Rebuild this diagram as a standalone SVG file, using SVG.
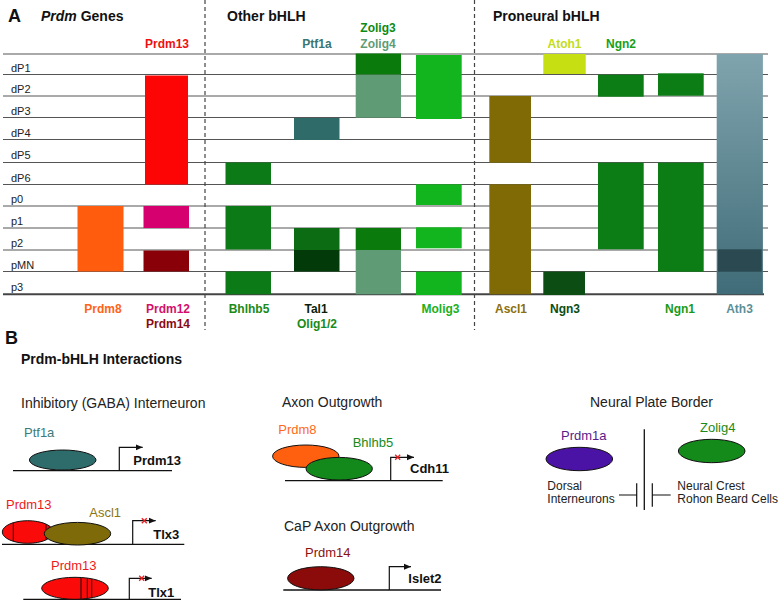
<svg xmlns="http://www.w3.org/2000/svg" width="778" height="601" viewBox="0 0 778 601">
<style>
text{font-family:"Liberation Sans",Arial,sans-serif}
.row{font-size:11px;fill:#222}
.col{font-size:12px;font-weight:bold;text-anchor:middle}
.hdr{font-size:14px;font-weight:bold;fill:#111}
.big{font-size:18px;font-weight:bold;fill:#111}
.sec{font-size:14px;fill:#222}
.lbl{font-size:13px}
.gene{font-size:13px;font-weight:bold;fill:#111}
.small{font-size:12px;fill:#222}
.grid line{stroke:#555;stroke-width:1}
.dash{stroke:#444;stroke-width:1.2;stroke-dasharray:4 3}
.ell{stroke:#111;stroke-width:1}
.prom{fill:none;stroke:#111;stroke-width:1.2}
.base{stroke:#111;stroke-width:1.3}
.stripe{stroke:#111;stroke-width:1}
.redx{stroke:#e82020;stroke-width:1.3}
</style>
<defs>
<marker id="arr" markerWidth="8" markerHeight="8" refX="7" refY="4" orient="auto" markerUnits="userSpaceOnUse">
<path d="M0,1 L7,4 L0,7 Z" fill="#111"/>
</marker>
<linearGradient id="ath" x1="0" y1="0" x2="0" y2="1">
<stop offset="0" stop-color="#80a4ae"/>
<stop offset="1" stop-color="#3f6c78"/>
</linearGradient>
<clipPath id="c13a"><ellipse cx="27.8" cy="532" rx="25.5" ry="11.3"/></clipPath>
<clipPath id="c13b"><ellipse cx="75" cy="588.3" rx="33.3" ry="11"/></clipPath>
</defs>
<rect width="778" height="601" fill="#fff"/>

<!-- Panel A headings -->
<text class="big" x="8" y="22">A</text>
<text class="hdr" x="41" y="21"><tspan font-style="italic">Prdm</tspan> Genes</text>
<text class="hdr" x="227" y="21">Other bHLH</text>
<text class="hdr" x="493" y="21">Proneural bHLH</text>

<!-- grid lines -->
<g class="grid">
<line x1="3" y1="54" x2="768" y2="54"/>
<line x1="3" y1="74.5" x2="768" y2="74.5"/>
<line x1="3" y1="96" x2="768" y2="96"/>
<line x1="3" y1="117.5" x2="768" y2="117.5"/>
<line x1="3" y1="139.5" x2="768" y2="139.5"/>
<line x1="3" y1="162.5" x2="768" y2="162.5"/>
<line x1="3" y1="184.5" x2="768" y2="184.5"/>
<line x1="3" y1="206" x2="768" y2="206"/>
<line x1="3" y1="228" x2="768" y2="228"/>
<line x1="3" y1="250" x2="768" y2="250"/>
<line x1="3" y1="271.5" x2="768" y2="271.5"/>
<line x1="3" y1="294.3" x2="764" y2="294.3" style="stroke-width:2;stroke:#444"/>
</g>
<g id="dividers">
<line class="dash" x1="205" y1="0" x2="205" y2="330"/>
<line class="dash" x1="474.5" y1="0" x2="474.5" y2="330"/>
</g>

<!-- row labels -->
<g id="row-labels">
<text class="row" x="11" y="72">dP1</text>
<text class="row" x="11" y="93">dP2</text>
<text class="row" x="11" y="114.5">dP3</text>
<text class="row" x="11" y="136.5">dP4</text>
<text class="row" x="11" y="159">dP5</text>
<text class="row" x="11" y="181.5">dP6</text>
<text class="row" x="11" y="203">p0</text>
<text class="row" x="11" y="225">p1</text>
<text class="row" x="11" y="247">p2</text>
<text class="row" x="11" y="268.5">pMN</text>
<text class="row" x="11" y="291">p3</text>
</g>

<!-- bars -->
<g id="prdm13-bar"><rect x="145" y="75.5" width="43" height="109" fill="#fe0505"/>
<text class="col" x="167" y="48" fill="#f01010">Prdm13</text></g>
<g id="prdm8-bar"><rect x="77.5" y="206" width="46" height="65.5" fill="#ff5c0e"/>
<text class="col" x="103" y="313" fill="#ff6418">Prdm8</text></g>
<g id="prdm12-bar"><rect x="143.5" y="206" width="45.5" height="22" fill="#d6006f"/>
<text class="col" x="168" y="313" fill="#d4106c">Prdm12</text></g>
<g id="prdm14-bar"><rect x="143.5" y="250.5" width="45.5" height="21" fill="#8a0008"/>
<text class="col" x="168" y="328" fill="#8a0a14">Prdm14</text></g>

<g id="bhlhb5-bar" fill="#0c7a16">
<rect x="225.5" y="162.5" width="45.5" height="22"/>
<rect x="225.5" y="206" width="45.5" height="43.5"/>
<rect x="225.5" y="271.5" width="45.5" height="22.8"/>
<text class="col" x="249" y="313" fill="#1a8a1a">Bhlhb5</text></g>
<g id="ptf1a-bar"><rect x="294" y="118" width="45.5" height="22" fill="#2f6b69"/>
<text class="col" x="317" y="48" fill="#3a7674">Ptf1a</text></g>
<g id="tal1-bar"><rect x="294" y="228" width="45.5" height="22" fill="#0b6c13"/>
<rect x="294" y="250" width="45.5" height="21.5" fill="#033a0a"/>
<text class="col" x="316" y="313" fill="#0a1f0a">Tal1</text>
<text class="col" x="317" y="328" fill="#1a8a1a">Olig1/2</text></g>
<g id="zolig-bar">
<rect x="355.7" y="53.5" width="45.3" height="21.2" fill="#0a7a0c"/>
<rect x="355.7" y="74.7" width="45.3" height="43" fill="#5f9b75"/>
<rect x="355.7" y="228" width="45.3" height="22" fill="#0a7a0c"/>
<rect x="355.7" y="250" width="45.3" height="44.3" fill="#5f9b75"/>
<text class="col" x="378" y="32" fill="#0e8a14">Zolig3</text>
<text class="col" x="378" y="48" fill="#5f9b75">Zolig4</text></g>
<g id="molig3-bar" fill="#12b51e">
<rect x="416" y="55" width="45.7" height="64"/>
<rect x="416" y="184.3" width="45.7" height="20.7"/>
<rect x="416" y="227.3" width="45.7" height="21"/>
<rect x="416" y="271.7" width="45.7" height="23.3"/>
<text class="col" x="440.5" y="313" fill="#20b020">Molig3</text></g>

<g id="ascl1-bar" fill="#7f6a06">
<rect x="489.3" y="96" width="41.7" height="66.7"/>
<rect x="489.3" y="184.3" width="41.7" height="110"/>
<text class="col" x="511" y="313" fill="#8a7010">Ascl1</text></g>
<g id="atoh1-bar"><rect x="543.3" y="54" width="42.4" height="20" fill="#c5df12"/>
<text class="col" x="564.5" y="48" fill="#c2dc20">Atoh1</text></g>
<g id="ngn3-bar"><rect x="543.3" y="271.7" width="41.7" height="23.3" fill="#0b4d12"/>
<text class="col" x="565" y="313" fill="#0b4d12">Ngn3</text></g>
<g id="ngn2-bar" fill="#0b7d14">
<rect x="598" y="74.7" width="45.7" height="22"/>
<rect x="598" y="162.7" width="45.7" height="86.6"/>
<text class="col" x="621" y="48" fill="#18a018">Ngn2</text></g>
<g id="ngn1-bar" fill="#0b7d14">
<rect x="658" y="73.3" width="45.7" height="22.4"/>
<rect x="658" y="162.7" width="45.7" height="109"/>
<text class="col" x="680" y="313" fill="#1a9a1a">Ngn1</text></g>
<g id="ath3-bar">
<rect x="716.7" y="54" width="46.2" height="240.3" fill="url(#ath)"/>
<rect x="718" y="249.3" width="43.7" height="22.4" fill="#2a4950"/>
<text class="col" x="739.5" y="313" fill="#5c8f98">Ath3</text></g>

<!-- Panel B -->
<text class="big" x="5" y="344">B</text>
<text class="hdr" x="21" y="364">Prdm-bHLH Interactions</text>
<text class="sec" x="21" y="408">Inhibitory (GABA) Interneuron</text>
<text class="sec" x="282" y="407">Axon Outgrowth</text>
<text class="sec" x="284" y="531">CaP Axon Outgrowth</text>
<text class="sec" x="590" y="407">Neural Plate Border</text>

<g id="connectors">
<line class="base" x1="13" y1="470.7" x2="172" y2="470.7"/>
<path class="prom" d="M119.3,470.7 V447.3 H142.7" marker-end="url(#arr)"/>
<line class="base" x1="2" y1="544.3" x2="184.3" y2="544.3"/>
<path class="prom" d="M132.7,544.3 V520.7 H155.7" marker-end="url(#arr)"/>
<line class="base" x1="23.3" y1="599.3" x2="181" y2="599.3"/>
<path class="prom" d="M129.3,599.3 V578.3 H151.7" marker-end="url(#arr)"/>
<line class="base" x1="285" y1="480.7" x2="442.7" y2="480.7"/>
<path class="prom" d="M390.7,480.7 V457.3 H414" marker-end="url(#arr)"/>
<line class="base" x1="283.3" y1="590" x2="441" y2="590"/>
<path class="prom" d="M389.3,590 V566.7 H411" marker-end="url(#arr)"/>
<g class="redx">
<path d="M141.8,518.2 L146.8,523.2 M146.8,518.2 L141.8,523.2"/>
<path d="M139.2,575.8 L144.2,580.8 M144.2,575.8 L139.2,580.8"/>
<path d="M395.2,454.8 L400.2,459.8 M400.2,454.8 L395.2,459.8"/>
</g>
<line class="base" x1="644.3" y1="429.3" x2="644.3" y2="510"/>
<path class="prom" d="M619,495 H636.7 M636.7,483.3 V506.7 M652.3,483.3 V506.7 M652.3,495 H670.7"/>
</g>

<g id="ptf1a"><ellipse class="ell" cx="62.7" cy="460" rx="33.3" ry="10" fill="#2e6b6b"/>
<text class="lbl" x="24" y="437" fill="#3b7b7a">Ptf1a</text></g>
<g id="prdm13-gene"><text class="gene" x="133.3" y="465">Prdm13</text></g>

<g id="prdm13-a"><ellipse class="ell" cx="27.8" cy="532" rx="25.5" ry="11.3" fill="#fb0a0a"/>
<g clip-path="url(#c13a)" class="stripe"><line x1="13.3" y1="518" x2="13.3" y2="546"/><line x1="46" y1="518" x2="46" y2="546"/><line x1="49.3" y1="518" x2="49.3" y2="546"/></g>
<text class="lbl" x="6" y="509" fill="#ee1a1a">Prdm13</text></g>
<g id="ascl1"><ellipse class="ell" cx="77.5" cy="533.7" rx="33.2" ry="11.3" fill="#7f6a0a"/>
<text class="lbl" x="89.3" y="517" fill="#8a7512">Ascl1</text></g>
<g id="tlx3"><text class="gene" x="153.3" y="539">Tlx3</text></g>

<g id="prdm13-b"><ellipse class="ell" cx="75" cy="588.3" rx="33.3" ry="11" fill="#fb0a0a"/>
<g clip-path="url(#c13b)" class="stripe"><line x1="81" y1="575" x2="81" y2="602"/><line x1="87.3" y1="575" x2="87.3" y2="602"/><line x1="91.7" y1="575" x2="91.7" y2="602"/></g>
<text class="lbl" x="51" y="569.5" fill="#ee1a1a">Prdm13</text></g>
<g id="tlx1"><text class="gene" x="148.3" y="597">Tlx1</text></g>

<g id="prdm8"><ellipse class="ell" cx="305.8" cy="456.2" rx="33.2" ry="11.2" fill="#ff6010"/>
<text class="lbl" x="278.3" y="434" fill="#ff6a1a">Prdm8</text></g>
<g id="bhlhb5"><ellipse class="ell" cx="339.2" cy="468.7" rx="33.2" ry="11.3" fill="#13881b"/>
<text class="lbl" x="352.7" y="447" fill="#1a8a1a">Bhlhb5</text></g>
<g id="cdh11"><text class="gene" x="410" y="473.3">Cdh11</text></g>

<g id="prdm14"><ellipse class="ell" cx="320.8" cy="578.3" rx="33.2" ry="11.6" fill="#8b0a0a"/>
<text class="lbl" x="305" y="557" fill="#8b1010">Prdm14</text></g>
<g id="islet2"><text class="gene" x="408.3" y="583.3">Islet2</text></g>

<g id="prdm1a"><ellipse class="ell" cx="579.3" cy="459" rx="33.3" ry="11.7" fill="#4b12a6"/>
<text class="lbl" x="561" y="440" fill="#5a1a8a">Prdm1a</text></g>
<g id="zolig4"><ellipse class="ell" cx="711.7" cy="451" rx="33.3" ry="11.7" fill="#138a1a"/>
<text class="lbl" x="700" y="432.3" fill="#1a8a1a">Zolig4</text></g>
<g id="dorsal"><text class="small" x="547.3" y="490">Dorsal</text><text class="small" x="547.3" y="503.3">Interneurons</text></g>
<g id="crest"><text class="small" x="677.3" y="490">Neural Crest</text><text class="small" x="677.3" y="503.3">Rohon Beard Cells</text></g>
</svg>
